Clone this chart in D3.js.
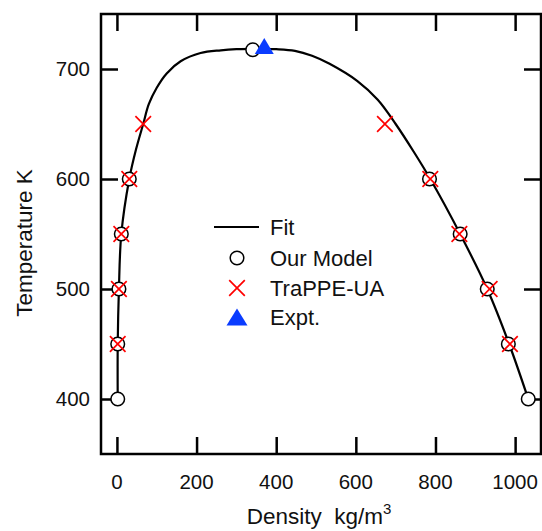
<!DOCTYPE html>
<html>
<head>
<meta charset="utf-8">
<script src="https://cdn.jsdelivr.net/npm/d3@7"></script>
<style>
  html, body { margin: 0; padding: 0; background: #fff; }
  svg { display: block; font-family: "Liberation Sans", Arial, sans-serif; }
</style>
</head>
<body>
<svg id="chart" width="542" height="531"></svg>
<script>
// ---- data ----
const modelDensity = [2, 2, 5, 11, 31, 341, 785, 862, 930, 983, 1033];
const modelTemp    = [400, 450, 500, 550, 600, 717.5, 600, 550, 500, 450, 400];

const trappeDensity = [2, 5, 11, 31, 66, 673, 787, 860, 936, 987];
const trappeTemp    = [450, 500, 550, 600, 650, 650, 600, 550, 500, 450];

const exptDensity = [370];
const exptTemp    = [721];

const fitDensity = [2, 2, 5, 11, 31, 48, 66, 80, 100, 125, 160, 210, 261, 300, 350, 400, 447, 490, 534, 604, 655, 700, 745, 787, 862, 930, 985, 1033];
const fitTemp    = [400, 450, 500, 550, 600, 627, 650, 668, 683, 696, 707, 714.5, 717, 718, 718.3, 718, 716.5, 712, 704.7, 689, 672, 650, 625, 600, 550, 500, 450, 400];

const xTicks = [0, 200, 400, 600, 800, 1000];
const yTicks = [400, 500, 600, 700];

const legendLabels = ["Fit", "Our Model", "TraPPE-UA", "Expt."];

// ---- setup ----
const svg = d3.select("#chart");
const pLeft = 101, pRight = 541, pTop = 14, pBottom = 454;

const x = d3.scaleLinear().domain([-40, 1065]).range([pLeft, pRight]);
const y = d3.scaleLinear().domain([350, 750]).range([pBottom, pTop]);

const tickLen = 17;

// ticks (inward, all four sides)
const gAxes = svg.append("g");
gAxes.append("g").attr("transform", `translate(0,${pBottom})`)
  .call(d3.axisBottom(x).tickValues(xTicks).tickSizeInner(-tickLen).tickSizeOuter(0).tickFormat(""));
gAxes.append("g").attr("transform", `translate(0,${pTop})`)
  .call(d3.axisTop(x).tickValues(xTicks).tickSizeInner(-tickLen).tickSizeOuter(0).tickFormat(""));
gAxes.append("g").attr("transform", `translate(${pLeft},0)`)
  .call(d3.axisLeft(y).tickValues(yTicks).tickSizeInner(-tickLen).tickSizeOuter(0).tickFormat(""));
gAxes.append("g").attr("transform", `translate(${pRight},0)`)
  .call(d3.axisRight(y).tickValues(yTicks).tickSizeInner(-tickLen).tickSizeOuter(0).tickFormat(""));
gAxes.selectAll(".domain").remove();
gAxes.selectAll(".tick line").attr("stroke", "#000").attr("stroke-width", 2.5);

// frame
svg.append("rect")
  .attr("x", pLeft).attr("y", pTop)
  .attr("width", pRight - pLeft).attr("height", pBottom - pTop)
  .attr("fill", "none").attr("stroke", "#000").attr("stroke-width", 2.5);

// tick labels
svg.append("g").selectAll("text").data(xTicks).join("text")
  .attr("x", d => x(d)).attr("y", 489)
  .attr("text-anchor", "middle").attr("font-size", "20.5px").attr("fill", "#111")
  .text(d => d);
svg.append("g").selectAll("text").data(yTicks).join("text")
  .attr("x", 90).attr("y", d => y(d)).attr("dy", "0.36em")
  .attr("text-anchor", "end").attr("font-size", "20.5px").attr("fill", "#111")
  .text(d => d);

// axis titles
const xt = svg.append("text")
  .attr("x", 319).attr("y", 524)
  .attr("text-anchor", "middle").attr("font-size", "22.5px").attr("fill", "#111");
xt.append("tspan").text("Density\u00a0\u00a0kg/m");
xt.append("tspan").attr("font-size", "15px").attr("dy", "-10").text("3");

svg.append("text")
  .attr("transform", "translate(32,243) rotate(-90)")
  .attr("text-anchor", "middle").attr("font-size", "22.5px").attr("fill", "#111")
  .text("Temperature K");

// fit curve
const fitData = fitDensity.map((d, i) => [d, fitTemp[i]]);
svg.append("path")
  .datum(fitData)
  .attr("fill", "none").attr("stroke", "#000").attr("stroke-width", 2.2)
  .attr("d", d3.line().x(d => x(d[0])).y(d => y(d[1])).curve(d3.curveCatmullRom.alpha(0.5)));

// markers
const circR = 6.8, crossH = 7.8;
function crossPath(cx, cy, h) {
  return `M${cx - h},${cy - h}L${cx + h},${cy + h}M${cx - h},${cy + h}L${cx + h},${cy - h}`;
}
function triPath(cx, cy, w, h) {
  return `M${cx},${cy - h / 2}L${cx + w / 2},${cy + h / 2}L${cx - w / 2},${cy + h / 2}Z`;
}

svg.append("g").selectAll("circle").data(modelDensity).join("circle")
  .attr("cx", d => x(d)).attr("cy", (d, i) => y(modelTemp[i])).attr("r", circR)
  .attr("fill", "#fff").attr("stroke", "#000").attr("stroke-width", 1.5);

svg.append("g").selectAll("path").data(trappeDensity).join("path")
  .attr("d", (d, i) => crossPath(x(d), y(trappeTemp[i]), crossH))
  .attr("fill", "none").attr("stroke", "#ff0000").attr("stroke-width", 1.7);

svg.append("g").selectAll("path").data(exptDensity).join("path")
  .attr("d", (d, i) => triPath(x(d), y(exptTemp[i]), 19, 16))
  .attr("fill", "#0a3cff");

// legend
const lg = svg.append("g");
const rowY = [227, 258, 288, 317];
const markX = 237, textX = 270;
lg.append("line").attr("x1", 214).attr("x2", 259).attr("y1", rowY[0]).attr("y2", rowY[0])
  .attr("stroke", "#000").attr("stroke-width", 2.2);
lg.append("circle").attr("cx", markX).attr("cy", rowY[1]).attr("r", circR)
  .attr("fill", "#fff").attr("stroke", "#000").attr("stroke-width", 1.5);
lg.append("path").attr("d", crossPath(markX, rowY[2], crossH))
  .attr("fill", "none").attr("stroke", "#ff0000").attr("stroke-width", 1.7);
lg.append("path").attr("d", triPath(markX, rowY[3], 21, 17)).attr("fill", "#0a3cff");
lg.selectAll("text").data(legendLabels).join("text")
  .attr("x", textX).attr("y", (d, i) => rowY[i]).attr("dy", "0.36em")
  .attr("font-size", "22px").attr("fill", "#111")
  .text(d => d);
</script>
</body>
</html>
